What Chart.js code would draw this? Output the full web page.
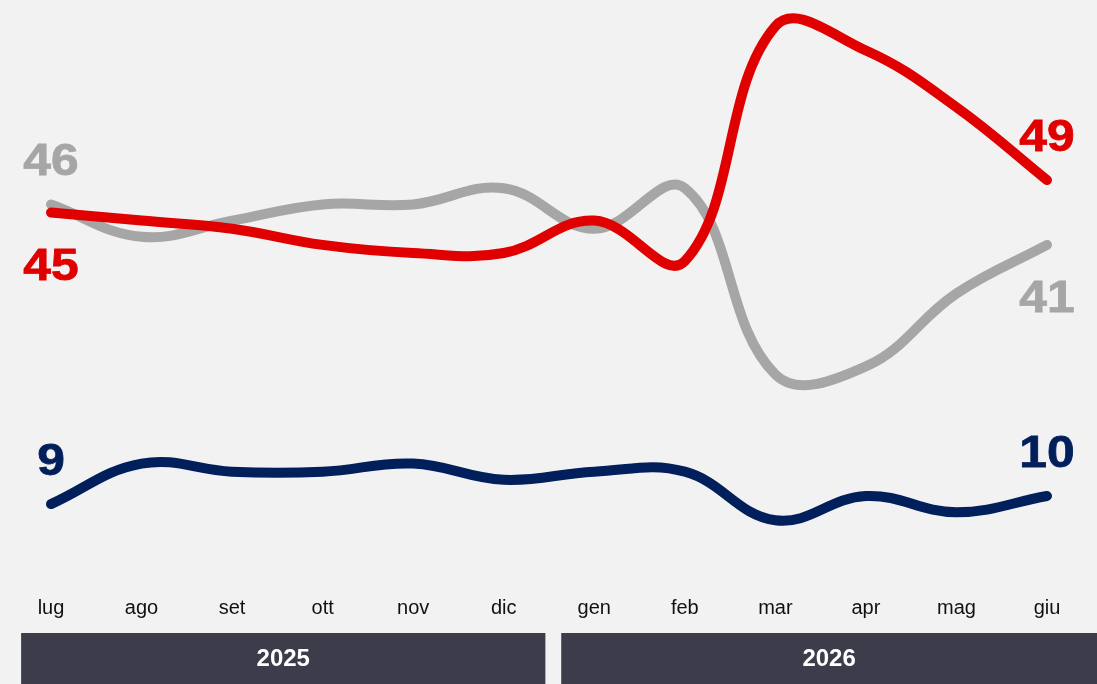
<!DOCTYPE html>
<html>
<head>
<meta charset="utf-8">
<script src="https://cdn.jsdelivr.net/npm/chart.js@4/dist/chart.umd.min.js"></script>
<style>
  html, body { margin: 0; padding: 0; background: #f2f2f2; }
  #wrap { position: relative; width: 1097px; height: 684px; }
  canvas { display: block; }
</style>
</head>
<body>
<div id="wrap"><canvas id="c" width="1097" height="684"></canvas></div>
<script>
const months = ['lug','ago','set','ott','nov','dic','gen','feb','mar','apr','mag','giu'];
const years = ['2025','2026'];
const yearStart = [0, 6];
const yearEnd = [5, 11];
const redValues  = [45, 44, 43, 41, 40, 40, 44, 39, 68, 65, 58, 49];
const grayValues = [46, 42, 44, 46, 46, 48, 43, 48, 25, 26, 35, 41];
const navyValues = [9, 14, 13, 13, 14, 12, 13, 13, 7, 10, 8, 10];

const RED = '#e00000', GRAY = '#a6a6a6', NAVY = '#001f5b', BAR = '#3d3c4a';

// which side each series' end labels sit on: [first, last]
const labelSide = [['below','above'], ['above','below'], ['above','above']];

const endLabels = {
  id: 'endLabels',
  afterDatasetsDraw(chart) {
    const ctx = chart.ctx;
    chart.data.datasets.forEach((ds, i) => {
      const meta = chart.getDatasetMeta(i);
      const idx = [0, ds.data.length - 1];
      idx.forEach((k, j) => {
        const pt = meta.data[k];
        const side = labelSide[i][j];
        const y = side === 'above' ? pt.y - 29 : pt.y + 67;
        ctx.save();
        ctx.translate(pt.x, y);
        ctx.scale(1.13, 1);
        ctx.font = 'bold 44px "Liberation Sans", Arial, sans-serif';
        ctx.fillStyle = ds.borderColor;
        ctx.strokeStyle = ds.borderColor;
        ctx.lineWidth = 0.8;
        ctx.textAlign = 'center';
        ctx.textBaseline = 'alphabetic';
        ctx.fillText(String(ds.data[k]), 0, 0);
        ctx.strokeText(String(ds.data[k]), 0, 0);
        ctx.restore();
      });
    });
  }
};

const yearBars = {
  id: 'yearBars',
  afterDraw(chart) {
    const ctx = chart.ctx;
    const x = chart.scales.x;
    const step = x.getPixelForValue(1) - x.getPixelForValue(0);
    const top = 633, h = 684 - 633;
    years.forEach((yr, i) => {
      const left = x.getPixelForValue(yearStart[i]) - step * (i === 0 ? 0.33 : 0.365);
      const right = i === years.length - 1 ? chart.width : x.getPixelForValue(yearEnd[i]) + step * 0.46;
      ctx.save();
      ctx.fillStyle = BAR;
      ctx.fillRect(left, top, right - left, h);
      ctx.fillStyle = '#ffffff';
      ctx.font = 'bold 24px "Liberation Sans", Arial, sans-serif';
      ctx.textAlign = 'center';
      ctx.textBaseline = 'middle';
      ctx.fillText(yr, (left + right) / 2, top + h / 2 + 1);
      ctx.restore();
    });
  }
};

const bg = {
  id: 'bg',
  beforeDraw(chart) {
    const ctx = chart.ctx;
    ctx.save();
    ctx.fillStyle = '#f2f2f2';
    ctx.fillRect(0, 0, chart.width, chart.height);
    ctx.restore();
  }
};

function lineDs(values, color) {
  return {
    data: values,
    borderColor: color,
    backgroundColor: color,
    borderWidth: 10,
    tension: 0.4,
    capBezierPoints: false,
    pointRadius: 0,
    pointHoverRadius: 0,
    borderCapStyle: 'round',
    borderJoinStyle: 'round',
    fill: false,
    clip: false
  };
}

new Chart(document.getElementById('c'), {
  type: 'line',
  data: {
    labels: months,
    datasets: [lineDs(redValues, RED), lineDs(grayValues, GRAY), lineDs(navyValues, NAVY)]
  },
  options: {
    responsive: false,
    animation: false,
    events: [],
    layout: { padding: { left: 51, right: 50, top: 10, bottom: 0 } },
    plugins: { legend: { display: false }, tooltip: { enabled: false } },
    elements: { line: { capBezierPoints: false } },
    scales: {
      x: {
        offset: false,
        grid: { display: false, drawTicks: false },
        border: { display: false },
        ticks: { color: '#111', font: { family: '"Liberation Sans", Arial, sans-serif', size: 20 }, padding: 19, maxRotation: 0, autoSkip: false },
        afterFit(axis) { axis.height = 107; }
      },
      y: {
        display: false,
        min: 0,
        max: 70
      }
    }
  },
  plugins: [bg, endLabels, yearBars]
});
</script>
</body>
</html>
